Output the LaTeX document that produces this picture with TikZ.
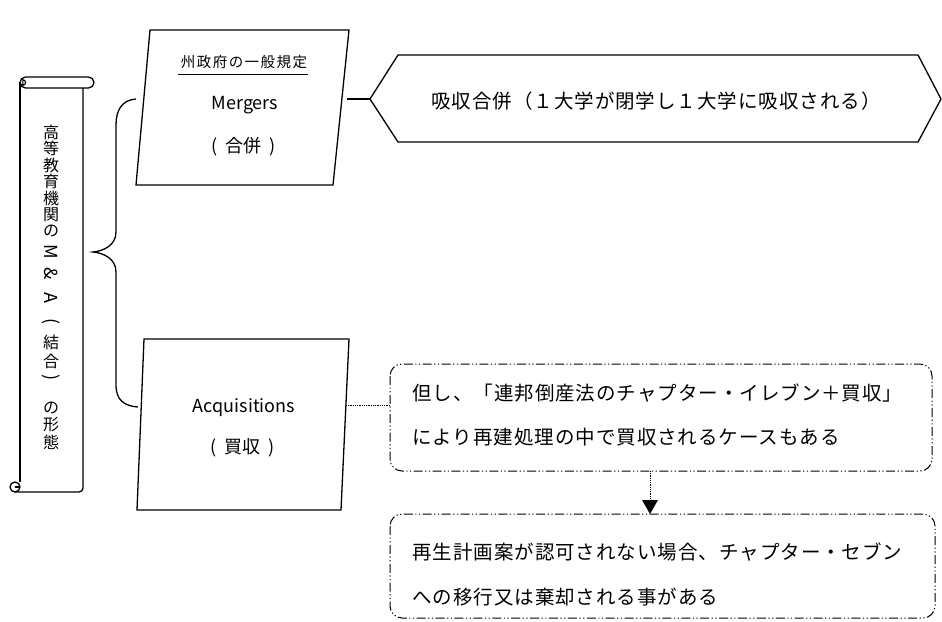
\documentclass[tikz,border=0pt]{standalone}
\usepackage{fontspec}
\newfontfamily\jp{Noto Sans CJK JP}
\newfontfamily\jpsp[LetterSpace=5]{Noto Sans CJK JP}
\newfontfamily\jpsm[LetterSpace=10]{Noto Sans CJK JP}
\usetikzlibrary{arrows.meta}
\begin{document}
\begin{tikzpicture}[x=1pt,y=-1pt,
  ln/.style={draw=black,line width=1.3pt},
  ddot/.style={draw=black,line width=1pt,dash pattern=on 9pt off 2.5pt on 1.2pt off 2.5pt on 1.2pt off 2.5pt},
  dotl/.style={draw=black,line width=0.9pt,dash pattern=on 0.8pt off 1pt},
  bigtxt/.style={font=\jpsp\fontsize{19.5}{22}\selectfont,inner sep=0pt},
  midtxt/.style={font=\jp\fontsize{18}{20}\selectfont,inner sep=0pt},
  partxt/.style={font=\jp\fontsize{18}{20}\selectfont,inner sep=0pt},
  smalltxt/.style={font=\jpsm\fontsize{14.5}{16}\selectfont,inner sep=0pt},
  vtxt/.style={font=\jp\fontsize{16}{16}\selectfont,inner sep=0pt},
  vlat/.style={font=\jp\fontsize{18}{18}\selectfont,inner sep=0pt,rotate=-90}]
\useasboundingbox (0,0) rectangle (942,621);

% ---------- scroll ----------
\draw[ln,rounded corners=5.5pt] (20,77) rectangle (94,88);
\draw[line width=1.1pt] (20,82.5) arc[start angle=180,end angle=-90,radius=2.8] -- (23,85.3);
\draw[ln] (20,82) -- (20,482);
\draw[ln,rounded corners=4pt] (83,88) -- (83,492) -- (15,492);
\draw[ln] (15,487) circle[radius=5];
\draw[line width=1.1pt] (15,487) -- (20,487);

% vertical text
\node[vtxt] (v1) at (51,132) {高};
\node[vtxt] (v2) at (51,148.5) {等};
\node[vtxt] (v3) at (51,165) {教};
\node[vtxt] (v4) at (51,181.5) {育};
\node[vtxt] (v5) at (51,198) {機};
\node[vtxt] (v6) at (51,214.5) {関};
\node[vtxt] (v7) at (51,231) {の};
\node[vlat] (v8) at (51,252) {M};
\node[vlat] (v9) at (51,274) {\&};
\node[vlat] (v10) at (51,298) {A};
\node[vlat] (v11) at (51,322) {(};
\node[vtxt] (v12) at (51,342) {結};
\node[vtxt] (v13) at (51,361) {合};
\node[vlat] (v14) at (51,378) {)};
\node[vtxt] (v15) at (51,408) {の};
\node[vtxt] (v16) at (51,425) {形};
\node[vtxt] (v17) at (51,442) {態};

% ---------- brace ----------
\coordinate (bt) at (136,99);
\coordinate (bb) at (138,407);
\coordinate (btip) at (93,252);
\draw[ln] (bt) .. controls (122,100) and (116,110) .. (116,125)
  -- (116,232) .. controls (116,245) and (104,251) .. (btip)
  .. controls (104,253) and (116,259) .. (116,272)
  -- (116,385) .. controls (116,400) and (124,406) .. (bb);

% ---------- Mergers parallelogram ----------
\draw[ln] (150,30) -- (349,30) -- (333,185) -- (136,185) -- cycle;
\coordinate (mR) at (347,99);
\node[smalltxt] (gov) at (244,62) {州政府の一般規定};
\draw[line width=1pt] (178,74) -- (308,74);
\node[midtxt] (mer) at (245,105) {Mergers};
\node[partxt] (merj) at (244,147) {(\hspace{8pt}合併\hspace{8pt})};

% ---------- hexagon ----------
\coordinate (hL) at (370,99);
\draw[ln] (hL) -- (398,55) -- (918,55) -- (941,99) -- (918,142) -- (398,142) -- cycle;
\node[bigtxt] (hex) at (656,101) {吸収合併（１大学が閉学し１大学に吸収される）};
\draw[ln] (mR) -- (hL);

% ---------- Acquisitions parallelogram ----------
\draw[ln] (144,339) -- (349,339) -- (341,510) -- (137,510) -- cycle;
\coordinate (aR) at (346,405);
\node[midtxt] (acq) at (244,408) {Acquisitions};
\node[partxt] (acqj) at (243,448) {(\hspace{8pt}買収\hspace{8pt})};

% ---------- dash-dot boxes ----------
\draw[ddot,rounded corners=12pt] (390,364) rectangle (932,471);
\coordinate (b1L) at (390,405);
\coordinate (b1B) at (650,471);
\node[bigtxt,anchor=west] (t1) at (412,393) {但し、「連邦倒産法のチャプター・イレブン＋買収」};
\node[bigtxt,anchor=west] (t2) at (412,437) {により再建処理の中で買収されるケースもある};

\draw[ddot,rounded corners=12pt] (390,514) rectangle (935,618);
\coordinate (b2T) at (650,514);
\node[bigtxt,anchor=west] (t3) at (412,552) {再生計画案が認可されない場合、チャプター・セブン};
\node[bigtxt,anchor=west] (t4) at (412,597) {への移行又は棄却される事がある};

\draw[dotl] (aR) -- (b1L);
\draw[dotl] (b1B) -- (650,500);
\fill (642,500) -- (658,500) -- (650,514) -- cycle;
\end{tikzpicture}
\end{document}
